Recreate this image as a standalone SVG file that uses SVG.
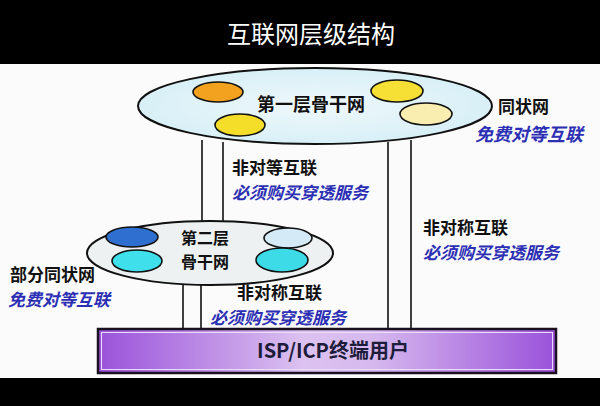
<svg xmlns="http://www.w3.org/2000/svg" width="600" height="406" viewBox="0 0 600 406">
<defs>
<style>
.t{font-family:"Noto Sans CJK SC","Noto Sans",sans-serif;font-weight:bold}
.blk{fill:#111}
.blu{fill:#2c2fb4;font-style:italic}
.ln{stroke:#111;stroke-width:1.6;fill:none}
.sm{stroke:#111;stroke-width:1.6}
</style>
<linearGradient id="boxg" x1="0" y1="0" x2="1" y2="0">
<stop offset="0" stop-color="#9a52da"/>
<stop offset="0.45" stop-color="#dcc2f0"/>
<stop offset="0.6" stop-color="#d6b8ee"/>
<stop offset="1" stop-color="#9a52da"/>
</linearGradient>
<radialGradient id="top" cx="0.5" cy="0.5" r="0.6">
<stop offset="0" stop-color="#eef8fb"/>
<stop offset="1" stop-color="#d4eef6"/>
</radialGradient>
</defs>
<rect x="0" y="0" width="600" height="406" fill="#000"/>
<rect x="0" y="64" width="600" height="314" fill="#fbfbfb"/>
<text x="311" y="43" text-anchor="middle" font-family="Noto Sans CJK SC, sans-serif" font-size="24" fill="#fff">互联网层级结构</text>

<g id="connectors">
<line class="ln" x1="202" y1="140" x2="202" y2="226"/>
<line class="ln" x1="223" y1="142" x2="223" y2="224"/>
<line class="ln" x1="388" y1="142" x2="388" y2="328"/>
<line class="ln" x1="411" y1="140" x2="411" y2="328"/>
<line class="ln" x1="183" y1="282" x2="183" y2="328"/>
<line class="ln" x1="201" y1="284" x2="201" y2="328"/>
</g>

<g id="tier1">
<ellipse cx="315" cy="106" rx="177" ry="38" fill="url(#top)" stroke="#111" stroke-width="2"/>
<ellipse class="sm" cx="218" cy="92" rx="25" ry="10" fill="#f2a21e"/>
<ellipse class="sm" cx="240" cy="125" rx="25" ry="11" fill="#f5de2a"/>
<ellipse class="sm" cx="397" cy="91" rx="26" ry="11" fill="#f7e035"/>
<ellipse class="sm" cx="426" cy="114" rx="26" ry="11" fill="#f9eeb0"/>
<text class="t blk" x="311" y="111" font-size="18" text-anchor="middle">第一层骨干网</text>
</g>

<g id="tier2">
<ellipse cx="210" cy="253" rx="123" ry="32" fill="#eef1f1" stroke="#111" stroke-width="2"/>
<ellipse class="sm" cx="132" cy="237" rx="26" ry="10" fill="#2f6fd0"/>
<ellipse class="sm" cx="137" cy="261" rx="25" ry="11" fill="#3fe0ec"/>
<ellipse class="sm" cx="288" cy="238" rx="24" ry="10" fill="#d4eaf6"/>
<ellipse class="sm" cx="282" cy="260" rx="26" ry="12" fill="#3ddbe8"/>
<text class="t blk" x="205" y="244" font-size="16" text-anchor="middle">第二层</text>
<text class="t blk" x="205" y="268" font-size="16" text-anchor="middle">骨干网</text>
</g>

<g id="users">
<rect x="98" y="329" width="458" height="44" fill="url(#boxg)" stroke="#1a1020" stroke-width="2.5"/>
<rect x="101.5" y="332.5" width="451" height="37" fill="none" stroke="#eadcf6" stroke-width="1"/>
<text class="t" x="333" y="358" font-size="20" text-anchor="middle" fill="#1c1c3a">ISP/ICP终端用户</text>
</g>

<g id="labels">
<text class="t blk" x="498" y="113" font-size="17">同状网</text>
<text class="t blu" x="475" y="141" font-size="18">免费对等互联</text>
<text class="t blk" x="232" y="174" font-size="17">非对等互联</text>
<text class="t blu" x="232" y="199" font-size="17">必须购买穿透服务</text>
<text class="t blk" x="423" y="234" font-size="17">非对称互联</text>
<text class="t blu" x="423" y="259" font-size="17">必须购买穿透服务</text>
<text class="t blk" x="10" y="281" font-size="17">部分同状网</text>
<text class="t blu" x="8" y="306" font-size="17">免费对等互联</text>
<text class="t blk" x="237" y="299" font-size="17">非对称互联</text>
<text class="t blu" x="210" y="324" font-size="17">必须购买穿透服务</text>
</g>
</svg>
